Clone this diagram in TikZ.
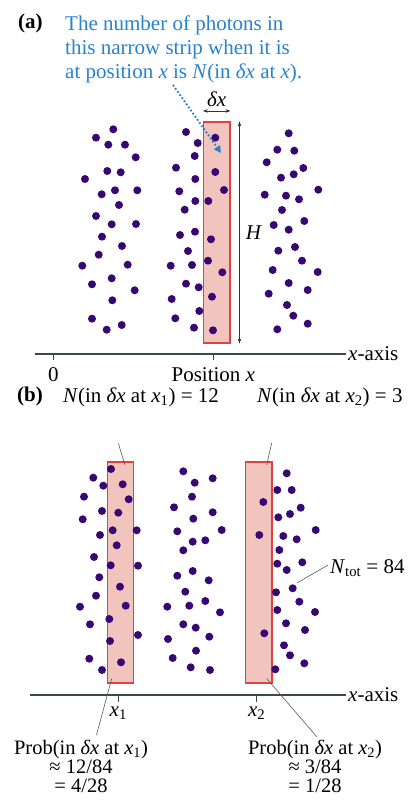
\documentclass[tikz,border=0pt]{standalone}
\usepackage{fontspec}
\setmainfont{Liberation Serif}
\usetikzlibrary{arrows.meta}
\definecolor{noteblue}{RGB}{40,130,205}
\definecolor{dotpurple}{RGB}{55,8,115}
\definecolor{stripfill}{RGB}{242,196,190}
\definecolor{stripred}{RGB}{225,65,65}
\definecolor{axisgray}{RGB}{55,75,75}
\definecolor{leadgray}{RGB}{90,90,90}

\begin{document}
\begin{tikzpicture}[x=1pt,y={(0pt,-1pt)},font=\fontsize{21}{24}\selectfont,
  lbl/.style={inner sep=0pt},
  strip/.style={draw=stripred,fill=stripfill,line width=1.1pt,minimum width=26.5pt,minimum height=221pt,inner sep=0pt},
  dot/.style={fill=dotpurple},
  axis/.style={draw=axisgray,line width=1.4pt},
  tick/.style={draw=axisgray,line width=0.8pt},
  lead/.style={draw=leadgray,line width=0.6pt},
  dim/.style={draw=black!80,line width=0.6pt,{Stealth[length=5pt,width=3.5pt]}-{Stealth[length=5pt,width=3.5pt]}},
  ptr/.style={draw=noteblue,line width=1.8pt,dotted,-{Triangle[length=7pt,width=7pt]}},
  prob/.style={lbl,anchor=north,align=center,font=\fontsize{20.5}{19}\selectfont}]
\fill[white] (0,0) rectangle (412,808);
\useasboundingbox (0,0) rectangle (412,808);

% (a) one strip moved along x
\node[lbl,anchor=west,font=\fontsize{21}{24}\selectfont\bfseries] (taga) at (18,23) {(a)};
\node[lbl,anchor=north west,align=left,text=noteblue] (note) at (65,16) {The number of photons in\\this narrow strip when it is\\at position \textit{x} is \textit{N}(in \textit{δx} at \textit{x}).};
\node[strip] (sa) at (216.7,232.5) {};
\foreach \px/\py in {113.3/129.3,96/137.7,108.3/144.7,125/144.7,135.7/157.3,107.3/171,120.7/172.3,85/179,101.7/194.3,115/190.3,137.3/190.3,119/205,96/216,111.7/224.3,136/224,102/236.7,122/246,98.7/254.7,82.3/265.7,127.7/264.7,111.7/278.3,92/284.3,134.7/290.3,112.3/300.3,92/318.7,106.7/329.7,121.7/325,
  186/132,197.7/143,215.3/137.7,194.7/156,176/167.7,215.3/172,195.3/179,224/190,179.3/191.3,195.3/201,208.3/201,184.7/209.7,180/235,195/231.7,211/239.3,188/251,208/260.7,170.7/265.7,192/265,222.3/272.3,186/283.7,198.7/287.3,212/296.7,171.7/299,199.3/311,175.3/318.3,194/327.7,213/330.3,
  288.7/133.3,277.3/149.7,294.3/150.7,266.7/162.3,303.3/168,281/177.7,293.7/174.3,318.3/189.7,264.7/194.7,286/195.7,299/199.3,282/210,304.3/221,273.7/225,288.7/229.7,295/247,278.3/250.7,302/260.7,272.7/270,317.7/272,288.7/283,307.7/290,268.7/293.7,287/305,293.3/315.7,277.3/329.3,307.7/323.7}
  \fill[dot] (\px,\py) circle[radius=4pt];
\draw[dim] ([yshift=10.5pt]sa.north west) -- ([yshift=10.5pt]sa.north east) node[midway,above=4pt,lbl] (dxa) {\textit{δx}};
\draw[dim] ([xshift=9pt]sa.north east) -- ([xshift=9pt]sa.south east) node[midway,right=6pt,lbl] (ha) {\textit{H}};
\coordinate (ptrstart) at (173,85);
\coordinate (ptrtip) at (221,153);
\draw[ptr] (ptrstart) -- (ptrtip);
\coordinate (axastart) at (35,354);
\node[lbl,anchor=west] (axalbl) at (348,354) {\textit{x}-axis};
\draw[axis] (axastart) -- ([xshift=-2pt]axalbl.west);
\node[lbl] (zeroa) at (53.3,375) {0};
\node[lbl] (posa) at (213.3,375) {Position \textit{x}};
\draw[tick] (zeroa |- axastart) -- ++(0,6);
\draw[tick] (posa |- axastart) -- ++(0,6);

% (b) two strips, 84 photons
\node[lbl,anchor=west,font=\fontsize{21}{24}\selectfont\bfseries] (tagb) at (17,396) {(b)};
\node[lbl] (nb1) at (141,397) {\textit{N}(in \textit{δx} at \textit{x}\textsubscript{1}) = 12};
\node[lbl,anchor=west] (nb2) at (257,397) {\textit{N}(in \textit{δx} at \textit{x}\textsubscript{2}) = 3};
\node[strip] (sb1) at (120.4,572.5) {};
\node[strip] (sb2) at (258.7,572.5) {};
\foreach \px/\py in {111/469,93.3/477.7,103.3/485.7,122.7/484.3,128.7/499.3,84/496.7,102/511,118.3/512.7,82.7/519.3,100/535,112.7/530.3,136.7/530.3,116.7/545.3,94/557,110.7/565.3,138/565.7,99.3/577.3,120/586.7,96/595.7,125.7/605.7,80/606.7,109.3/619,90/624.3,138/635,110/641,89.3/658.7,121/662.3,102/670,
  183.3/471.3,194.7/482.7,212.7/478.3,192/496.7,174/507.3,212.7/512.3,193.3/518.7,221.7/530,177.3/531.3,192.7/541.7,205.3/540.3,183.3/550.3,177.3/575.7,192.7/571,208.7/580.3,185.3/591.7,205.3/601,167.3/606.7,189.3/605.7,220/612.3,183.3/624.3,195.7/627.7,209.3/636.7,168/639,196/650.7,172.7/658,190.7/667.3,210/670,
  263.3/502,259.3/535,264.3/633.3,286.7/473.3,277.3/490,291.7/490,300.7/507.7,278.3/517.3,290/514,315.7/530,283.3/536,296.7/539.3,279.3/550,302.3/562.3,277.3/563.7,286.7/570,292.7/588.3,276/592.3,299.3/601.7,277.3/610,315/612,286/623.3,305/630,284/645.3,290/655.3,275.3/669.3,304.3/663.3}
  \fill[dot] (\px,\py) circle[radius=4pt];
\draw[lead] ([xshift=-2pt,yshift=18pt]sb1.north) -- ([xshift=4.5pt,yshift=-3.5pt]sb1.north);
\draw[lead] ([xshift=13pt,yshift=18.5pt]sb2.north) -- ([xshift=8pt,yshift=-3.5pt]sb2.north);
\node[lbl,anchor=west] (ntot) at (330,568) {\textit{N}\textsubscript{tot} = 84};
\coordinate (ntotpt) at (297,583);
\draw[lead] (ntotpt) -- ([xshift=-2pt,yshift=3pt]ntot.west);
\coordinate (axbstart) at (30,695);
\node[lbl,anchor=west] (axblbl) at (348,695) {\textit{x}-axis};
\draw[axis] (axbstart) -- ([xshift=-2pt]axblbl.west);
\node[lbl] (x1lbl) at (118.3,713) {\textit{x}\textsubscript{1}};
\node[lbl] (x2lbl) at (256.7,713) {\textit{x}\textsubscript{2}};
\draw[tick] (x1lbl |- axbstart) -- ++(0,7);
\draw[tick] (x2lbl |- axbstart) -- ++(0,7);
\node[prob] (p1) at (81,740) {Prob(in \textit{δx} at \textit{x}\textsubscript{1})\\≈ 12/84\\= 4/28};
\node[prob] (p2) at (315,740) {Prob(in \textit{δx} at \textit{x}\textsubscript{2})\\≈ 3/84\\= 1/28};
\draw[lead] ([xshift=-8.7pt,yshift=5pt]sb1.south) -- ([xshift=15.5pt,yshift=5pt]p1.north);
\draw[lead] ([xshift=8pt,yshift=5pt]sb2.south) -- ([xshift=2pt,yshift=3pt]p2.north);
\end{tikzpicture}
\end{document}
